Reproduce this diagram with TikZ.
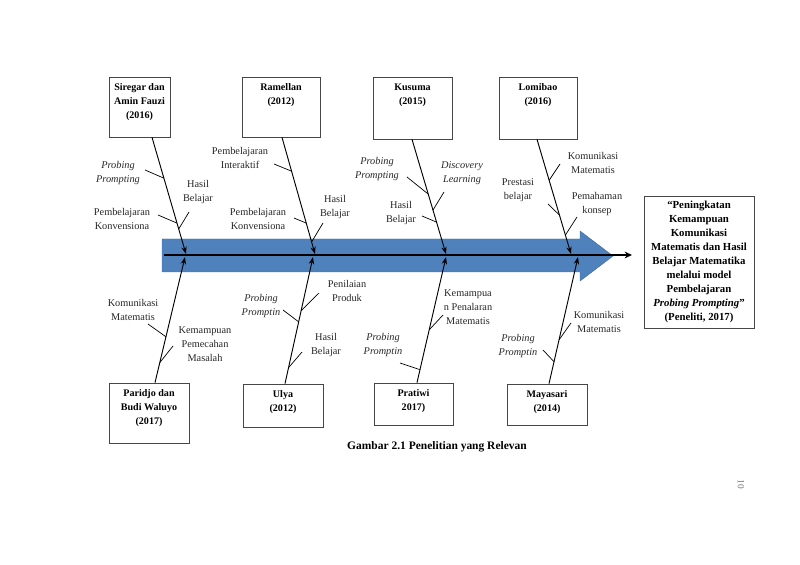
\documentclass[tikz,border=0pt]{standalone}
\usepackage{fontspec}
\setmainfont{Liberation Serif}
\usetikzlibrary{arrows.meta,positioning,calc}
\definecolor{spineblue}{RGB}{79,129,189}
\definecolor{spineedge}{RGB}{65,108,160}
\definecolor{boxgray}{RGB}{70,70,70}
\tikzset{
  boxln/.style={draw=boxgray, line width=0.6pt, inner sep=0pt},
  boxtxt/.style={font=\fontsize{8.6}{11.9}\selectfont\bfseries, align=center, inner sep=0pt},
  lbl/.style={font=\fontsize{8.8}{11.9}\selectfont, align=center, text=black!85, inner sep=0pt},
  ilbl/.style={font=\fontsize{8.8}{11.9}\selectfont\itshape, align=center, text=black!85, inner sep=0pt},
  boneln/.style={-{Stealth[length=2.2mm,width=1.6mm]}, line width=0.8pt},
  twigln/.style={line width=0.6pt},
  spineln/.style={-{Stealth[length=2.2mm,width=2mm]}, line width=1.6pt},
}

\begin{document}
\begin{tikzpicture}[x=0.03cm, y=-0.03cm]
    \useasboundingbox (0,0) rectangle (800,565);
    % big blue arrow
    \fill[spineblue, draw=spineedge, line width=0.4pt]
      (162,239) -- (580,239) -- (580,231) -- (613,256) -- (580,281)
      -- (580,272) -- (162,272) -- cycle;
    % spine
    \coordinate (spineL) at (164,255);
    \coordinate (spineR) at (632,255);
    \draw[spineln] (spineL) -- (spineR);
    % upper boxes
    \node[boxln, minimum width=1.83cm, minimum height=1.8cm] (sir) at (139.5,107) {};
    \node[boxln, minimum width=2.34cm, minimum height=1.8cm] (ram) at (281,107) {};
    \node[boxln, minimum width=2.37cm, minimum height=1.86cm] (kus) at (412.5,108) {};
    \node[boxln, minimum width=2.34cm, minimum height=1.86cm] (lom) at (538,108) {};
    \node[boxtxt, below=6pt of sir.north] (sirT) {Siregar dan\\Amin Fauzi\\(2016)};
    \node[boxtxt, below=6pt of ram.north] (ramT) {Ramellan\\(2012)};
    \node[boxtxt, below=6pt of kus.north] (kusT) {Kusuma\\(2015)};
    \node[boxtxt, below=6pt of lom.north] (lomT) {Lomibao\\(2016)};
    % lower boxes
    \node[boxln, minimum width=2.4cm, minimum height=1.8cm] (par) at (149,413) {};
    \node[boxln, minimum width=2.4cm, minimum height=1.29cm] (uly) at (283,405.5) {};
    \node[boxln, minimum width=2.37cm, minimum height=1.26cm] (pra) at (413.5,404) {};
    \node[boxln, minimum width=2.4cm, minimum height=1.23cm] (may) at (547,404.5) {};
    \node[boxtxt, below=6pt of par.north] (parT) {Paridjo dan\\Budi Waluyo\\(2017)};
    \node[boxtxt, below=6pt of uly.north] (ulyT) {Ulya\\(2012)};
    \node[boxtxt, below=6pt of pra.north] (praT) {Pratiwi\\2017)};
    \node[boxtxt, below=6pt of may.north] (mayT) {Mayasari\\(2014)};
    % goal box
    \node[boxln, boxtxt, minimum width=3.3cm, minimum height=3.96cm,
      font=\fontsize{9.2}{12}\selectfont\bfseries] (goal) at (699,262)
      {``Peningkatan\\Kemampuan\\Komunikasi\\Matematis dan Hasil\\Belajar Matematika\\melalui model\\Pembelajaran\\\textit{Probing Prompting}''\\(Peneliti, 2017)};
    % bones
    \coordinate (sirA) at ($(sir.south)+(12.5,0)$);  \coordinate (sirB) at (186,254);
    \coordinate (ramA) at ($(ram.south)+(1,0)$);     \coordinate (ramB) at (315,254);
    \coordinate (kusA) at ($(kus.south)+(-0.5,0)$);  \coordinate (kusB) at (446,254);
    \coordinate (lomA) at ($(lom.south)+(-1,0)$);    \coordinate (lomB) at (571,254);
    \coordinate (parA) at ($(par.north)+(6,0)$);     \coordinate (parB) at (185,257);
    \coordinate (ulyA) at ($(uly.north)+(2,0)$);     \coordinate (ulyB) at (313,257);
    \coordinate (praA) at ($(pra.north)+(3.5,0)$);   \coordinate (praB) at (446,257);
    \coordinate (mayA) at ($(may.north)+(2,0)$);     \coordinate (mayB) at (578,257);
    \foreach \b in {sir,ram,kus,lom,par,uly,pra,may}
      \draw[boneln] (\b A) -- (\b B);
    % twigs: bone, place along it, free end
    \foreach \b/\t/\n/\x/\y in {sir/0.35/1/145/170, sir/0.786/2/189/212, sir/0.735/3/158/215,
        ram/0.29/1/274/164, ram/0.897/2/323/223, ram/0.735/3/294/218,
        kus/0.478/1/407/177, kus/0.617/2/444/192, kus/0.722/3/422/216,
        lom/0.357/1/560/164, lom/0.661/2/548/204, lom/0.835/3/577/217,
        par/0.365/1/148/324, par/0.159/2/173/346,
        uly/0.575/1/319/293, uly/0.488/2/283/310, uly/0.126/3/302/352,
        pra/0.42/1/443/315, pra/0.103/2/400/363,
        may/0.346/1/571/323, may/0.173/2/543/350} {
      \coordinate (\b\n) at (\x,\y);
      \draw[twigln] (\b\n) -- ($(\b A)!\t!(\b B)$);
    }
    % labels, upper side
    \node[ilbl] (sirPP) at (118,173) {Probing\\Prompting};
    \node[lbl] (sirHB) at (198,192) {Hasil\\Belajar};
    \node[lbl] (sirPK) at (122,219) {Pembelajaran\\Konvensiona};
    \node[lbl] (ramPI) at (240,158) {Pembelajaran\\Interaktif};
    \node[lbl] (ramHB) at (335,207) {Hasil\\Belajar};
    \node[lbl] (ramPK) at (258,219) {Pembelajaran\\Konvensiona};
    \node[ilbl] (kusPP) at (377,169) {Probing\\Prompting};
    \node[ilbl] (kusDL) at (462,173) {Discovery\\Learning};
    \node[lbl] (kusHB) at (401,213) {Hasil\\Belajar};
    \node[lbl] (lomKM) at (593,163) {Komunikasi\\Matematis};
    \node[lbl] (lomPB) at (518,190) {Prestasi\\belajar};
    \node[lbl] (lomPK) at (597,204) {Pemahaman\\konsep};
    % labels, lower side
    \node[lbl] (parKM) at (133,310) {Komunikasi\\Matematis};
    \node[lbl] (parKP) at (205,344) {Kemampuan\\Pemecahan\\Masalah};
    \node[lbl] (ulyPR) at (347,291) {Penilaian\\Produk};
    \node[ilbl] (ulyPP) at (261,306) {Probing\\Promptin};
    \node[lbl] (ulyHB) at (326,345) {Hasil\\Belajar};
    \node[lbl] (praKP) at (468,307) {Kemampua\\n Penalaran\\Matematis};
    \node[ilbl] (praPP) at (383,345) {Probing\\Promptin};
    \node[lbl] (mayKM) at (599,322) {Komunikasi\\Matematis};
    \node[ilbl] (mayPP) at (518,346) {Probing\\Promptin};
    % caption and page number
    \node[boxtxt, font=\fontsize{9.8}{12}\selectfont\bfseries] (caption) at (437,447) {Gambar 2.1 Penelitian yang Relevan};
    \node[lbl, text=black!55, rotate=-90, font=\fontsize{8}{9}\selectfont] (pgno) at (741,484) {10};
  \end{tikzpicture}
\end{document}
